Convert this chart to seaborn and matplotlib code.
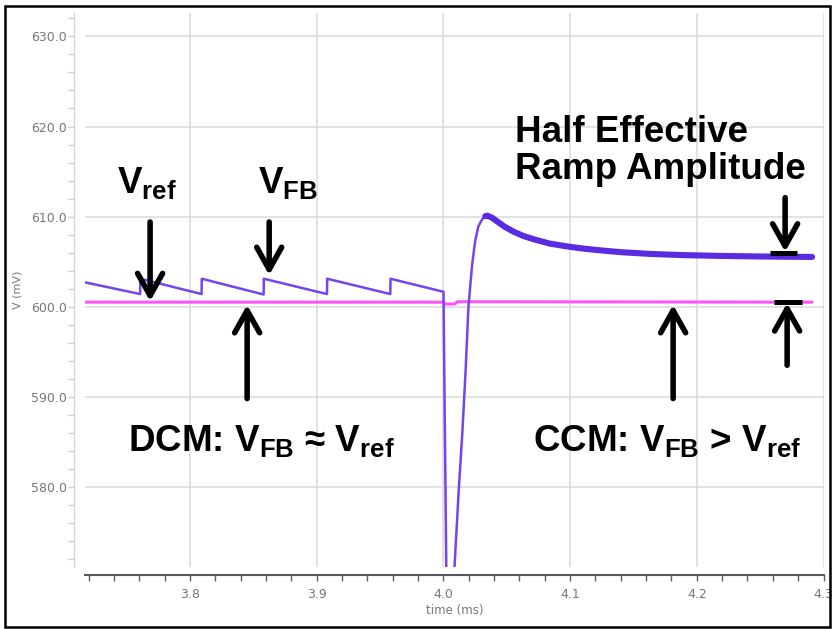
import matplotlib
matplotlib.use("Agg")
import matplotlib.pyplot as plt
import seaborn as sns
from matplotlib.ticker import MultipleLocator, FormatStrFormatter
from matplotlib.patches import Rectangle

# V_FB in DCM (sawtooth), then the load-step undershoot and the overshoot
vfb_dcm_t = [3.717, 3.7605, 3.7607, 3.809, 3.8092, 3.858, 3.8582, 3.908, 3.9082,
             3.958, 3.9582, 4.000, 4.0022, 4.0035, 4.0087, 4.0120, 4.0150, 4.0175,
             4.0197, 4.0225, 4.0250, 4.0275, 4.0305, 4.0330, 4.0345]
vfb_dcm_v = [602.7, 601.4, 603.1, 601.4, 603.1, 601.35, 603.1, 601.4, 603.1,
             601.4, 603.1, 601.65, 571.1, 556.0, 571.1, 579.5, 586.3, 593.0,
             600.0, 604.5, 607.3, 608.9, 609.7, 610.05, 610.1]

# V_FB in CCM (settling with the ramp ripple band)
vfb_ccm_t = [4.0330, 4.0345, 4.0380, 4.0420, 4.0480, 4.0550, 4.0630, 4.0720, 4.0840,
             4.0970, 4.1100, 4.1240, 4.1400, 4.1640, 4.1900, 4.2200, 4.2500, 4.2910]
vfb_ccm_v = [610.05, 610.1, 609.9, 609.5, 608.9, 608.35, 607.85, 607.45, 607.0,
             606.7, 606.45, 606.25, 606.05, 605.85, 605.72, 605.63, 605.57, 605.52]

# reference voltage
vref_t = [3.717, 4.000, 4.0012, 4.009, 4.011, 4.291]
vref_v = [600.5, 600.5, 600.3, 600.3, 600.55, 600.5]

x_limits = (3.717, 4.3)
y_limits = (571.1, 632.6)

sns.set_style("white")
plt.rcParams["font.family"] = ["DejaVu Sans"]
plt.rcParams["mathtext.default"] = "regular"

fig = plt.figure(figsize=(8.32, 6.29), dpi=100)
W, H = 832, 629
ax = fig.add_axes([85 / W, 1 - 567 / H, (823.5 - 85) / W, (567 - 13) / H])

pink = "#ff55f8"
purple_thin = "#7445ee"
purple_thick = "#5a2be0"

sns.lineplot(x=vref_t, y=vref_v, ax=ax, color=pink, linewidth=2.2,
             estimator=None, sort=False, zorder=3)
sns.lineplot(x=vfb_dcm_t, y=vfb_dcm_v, ax=ax, color=purple_thin, linewidth=1.8,
             estimator=None, sort=False, zorder=4)
sns.lineplot(x=vfb_ccm_t, y=vfb_ccm_v, ax=ax, color=purple_thick, linewidth=4.4,
             estimator=None, sort=False, zorder=4, solid_capstyle="round",
             solid_joinstyle="round")

ax.set_xlim(*x_limits)
ax.set_ylim(*y_limits)
ax.xaxis.set_major_locator(MultipleLocator(0.1))
ax.xaxis.set_minor_locator(MultipleLocator(0.02))
ax.yaxis.set_major_locator(MultipleLocator(10))
ax.yaxis.set_minor_locator(MultipleLocator(2))
ax.xaxis.set_major_formatter(FormatStrFormatter("%.1f"))
ax.yaxis.set_major_formatter(FormatStrFormatter("%.1f"))

ax.grid(True, which="major", color="#dadada", linewidth=1.1)
ax.set_axisbelow(True)

for s in ("top", "right"):
    ax.spines[s].set_visible(False)
ax.spines["left"].set_position(("outward", 8))
ax.spines["left"].set_color("#d4d4d4")
ax.spines["left"].set_linewidth(1.0)
ax.spines["bottom"].set_position(("outward", 6))
ax.spines["bottom"].set_color("#5a5a5a")
ax.spines["bottom"].set_linewidth(1.5)

ax.tick_params(axis="x", which="both", direction="out", length=4, width=1,
               color="#606060", labelsize=9, labelcolor="#777777", pad=5,
               bottom=True)
ax.tick_params(axis="y", which="both", direction="out", length=4, width=1,
               color="#cfcfcf", labelsize=9, labelcolor="#777777", pad=1,
               left=True)

ax.set_xlabel("time (ms)", fontsize=8.5, color="#777777", labelpad=2)
ax.set_ylabel("V (mV)", fontsize=8, color="#777777", labelpad=6)

# annotation text
txt = dict(fontsize=26.5, fontweight="bold", family="Liberation Sans", color="black",
           ha="left", va="baseline", zorder=6)
ax.text(3.7424, 612.63, r"$V_{ref}$", **txt)
ax.text(3.8537, 612.63, r"$V_{FB}$", **txt)
ax.text(3.7511, 583.97, r"DCM: $V_{FB}$ ≈ $V_{ref}$", **txt)
ax.text(4.0708, 583.97, r"CCM: $V_{FB}$ > $V_{ref}$", **txt)
ax.text(4.0566, 618.3, "Half Effective", **txt)
ax.text(4.0566, 614.19, "Ramp Amplitude", **txt)

arrow = dict(arrowstyle="->, head_length=0.8, head_width=0.45", lw=4, color="black",
             shrinkA=0, shrinkB=0, mutation_scale=20)


def pointer(x, y_tail, y_tip):
    ax.annotate("", xy=(x, y_tip), xytext=(x, y_tail), arrowprops=arrow, zorder=6,
                annotation_clip=False)


pointer(3.7684, 609.4, 600.6)   # V_ref
pointer(3.8624, 609.4, 603.5)   # V_FB
pointer(3.8450, 589.8, 600.2)   # DCM
pointer(4.1813, 589.8, 600.2)   # CCM
pointer(4.2697, 612.1, 606.1)   # ripple top
pointer(4.2713, 593.5, 600.4)   # reference level

# bars marking the half ramp amplitude
ax.plot([4.2579, 4.2792], [605.96, 605.96], color="black", lw=3.6, zorder=6,
        solid_capstyle="butt")
ax.plot([4.2611, 4.2832], [600.5, 600.5], color="black", lw=3.6, zorder=6,
        solid_capstyle="butt")

fig.patches.append(Rectangle((5 / W, 1 - 626.5 / H), (829.5 - 5) / W, (626.5 - 6) / H,
                             transform=fig.transFigure, fill=False, edgecolor="black",
                             linewidth=1.8, zorder=10))

fig.savefig("out.png", dpi=100)
